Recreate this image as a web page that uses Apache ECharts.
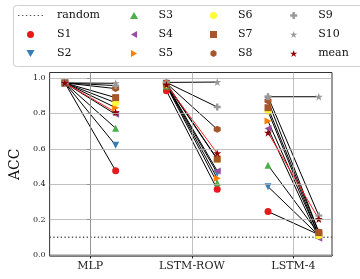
<!DOCTYPE html>
<html><head><meta charset="utf-8">
<script src="https://cdn.jsdelivr.net/npm/echarts@6/dist/echarts.min.js"></script>
<style>html,body{margin:0;padding:0;background:#fff}#c{width:360px;height:279px}</style>
</head><body><div id="c"></div>
<script>
// ---- data ----
const categories = ['MLP', 'LSTM-ROW', 'LSTM-4'];
const names = ['S1','S2','S3','S4','S5','S6','S7','S8','S9','S10','mean'];
const yTicks = [0, 0.2, 0.4, 0.6, 0.8, 1.0];
const randomLevel = 0.1;
// values per model: before (left) and after (right), order S1..S10, mean
const mlpLeft  = [0.972,0.972,0.972,0.972,0.972,0.972,0.972,0.972,0.972,0.972,0.972];
const mlpRight = [0.476,0.620,0.716,0.795,0.832,0.860,0.889,0.940,0.957,0.970,0.806];
const rowLeft  = [0.928,0.960,0.955,0.965,0.960,0.965,0.970,0.970,0.975,0.975,0.962];
const rowRight = [0.371,0.462,0.408,0.475,0.433,0.540,0.542,0.710,0.836,0.977,0.575];
const l4Left   = [0.245,0.386,0.507,0.715,0.757,0.812,0.832,0.872,0.894,0.894,0.691];
const l4Right  = [0.115,0.110,0.120,0.095,0.110,0.110,0.126,0.130,0.222,0.894,0.203];

// ---- styles ----
const F = 'DejaVu Serif';
const colors = ['#e41a1c','#377eb8','#4daf4a','#984ea3','#ff7f00','#ffff33','#a65628','#a65628','#999999','#999999','#8b0000'];
const STAR = 'path://M5,0 L6.12,3.45 L9.76,3.45 L6.82,5.59 L7.94,9.05 L5,6.91 L2.06,9.05 L3.18,5.59 L0.24,3.45 L3.88,3.45 Z';
const symbols = [
  'circle',
  'path://M0,0 L10,0 L5,8.66 Z',
  'path://M5,0 L10,8.66 L0,8.66 Z',
  'path://M8.66,0 L8.66,10 L0,5 Z',
  'path://M0,0 L8.66,5 L0,10 Z',
  'circle',
  'path://M0,0 H10 V10 H0 Z',
  'path://M5,0 L9.33,2.5 L9.33,7.5 L5,10 L0.67,7.5 L0.67,2.5 Z',
  'path://M3.3,0 H6.7 V3.3 H10 V6.7 H6.7 V10 H3.3 V6.7 H0 V3.3 H3.3 Z',
  STAR,
  STAR
];
const sizes = [7,7,7,7,7,7,7,7,7,8,8];
const DOTS = 'path://M0,0h1.4v1.2h-1.4zM3.9,0h1.4v1.2h-1.4zM7.8,0h1.4v1.2h-1.4zM11.7,0h1.4v1.2h-1.4zM15.6,0h1.4v1.2h-1.4zM19.5,0h1.4v1.2h-1.4zM23.4,0h1.4v1.2h-1.4z';

const leftArrs = [mlpLeft, rowLeft, l4Left];
const rightArrs = [mlpRight, rowRight, l4Right];
const off = 0.25;

const series = [];
series.push({
  type: 'line', data: [[-1, -1]], symbol: 'none', silent: true, z: 0,
  lineStyle: {opacity: 0},
  markLine: {
    silent: true, symbol: 'none', label: {show: false}, animation: false,
    lineStyle: {color: '#b0b0b0', width: 0.8, type: 'solid'},
    data: yTicks.map(v => ({yAxis: v})).concat(categories.map((c, i) => ({xAxis: i})))
  }
});
series.push({
  name: 'random', type: 'line', data: [[-0.4, randomLevel], [2.38, randomLevel]],
  symbol: 'none', z: 1, itemStyle: {color: '#555'},
  lineStyle: {type: [1.3, 2.4], color: '#555', width: 1.3}
});
names.forEach((n, i) => {
  categories.forEach((c, m) => {
    series.push({
      name: n, type: 'line', z: 2,
      data: [[m - off, leftArrs[m][i]], [m + off, rightArrs[m][i]]],
      symbol: symbols[i], symbolSize: sizes[i], showSymbol: true,
      itemStyle: {color: colors[i], borderWidth: 0},
      lineStyle: {color: n === 'mean' ? '#ff2020' : '#000', width: 1},
      emphasis: {disabled: true}
    });
  });
});

function legendCol(items, left, pad) {
  return {
    orient: 'vertical', left: left, top: 9, padding: 0,
    itemWidth: 25, itemHeight: 7, itemGap: 6, selectedMode: false,
    textStyle: {fontFamily: F, fontSize: 11, color: '#111', lineHeight: 13, padding: [0, 0, 0, pad]},
    data: items.map(n => ({name: n, icon: n === 'random' ? DOTS : symbols[names.indexOf(n)]}))
  };
}

const chart = echarts.init(document.getElementById('c'), null, {renderer: 'canvas'});
chart.setOption({
  animation: false,
  backgroundColor: '#fff',
  graphic: [{
    type: 'rect', left: 13, top: 5, z: -1,
    shape: {width: 352, height: 61, r: 3},
    style: {fill: '#fff', stroke: '#d0d0d0', lineWidth: 1}
  }],
  legend: [
    legendCol(['random', 'S1', 'S2'], 18, 9),
    legendCol(['S3', 'S4', 'S5'], 130, 7),
    legendCol(['S6', 'S7', 'S8'], 210, 7),
    legendCol(['S9', 'S10', 'mean'], 290, 7)
  ],
  grid: {left: 45, right: 28, top: 72.5, bottom: 23, show: true, borderColor: '#333', borderWidth: 1},
  xAxis: {
    type: 'value', min: -0.4, max: 2.38,
    axisLine: {show: true, lineStyle: {color: '#222', width: 1.3}},
    axisTick: {show: true, customValues: [0, 1, 2], length: 3.5, lineStyle: {color: '#222'}},
    axisLabel: {customValues: [0, 1, 2], formatter: v => categories[Math.round(v)], fontFamily: F, fontSize: 11, color: '#222', margin: 5},
    splitLine: {show: false}
  },
  yAxis: {
    type: 'value', min: -0.006, max: 1.031,
    name: 'ACC', nameLocation: 'middle', nameGap: 21, nameRotate: 90,
    nameTextStyle: {fontFamily: F, fontSize: 14, color: '#111'},
    axisLine: {show: true, lineStyle: {color: '#222', width: 1}},
    axisTick: {show: true, customValues: yTicks, length: 3.5, lineStyle: {color: '#222'}},
    axisLabel: {customValues: yTicks, formatter: v => v.toFixed(1), fontFamily: F, fontSize: 8, color: '#222', margin: 4},
    splitLine: {show: false}
  },
  series: series
});
</script></body></html>
